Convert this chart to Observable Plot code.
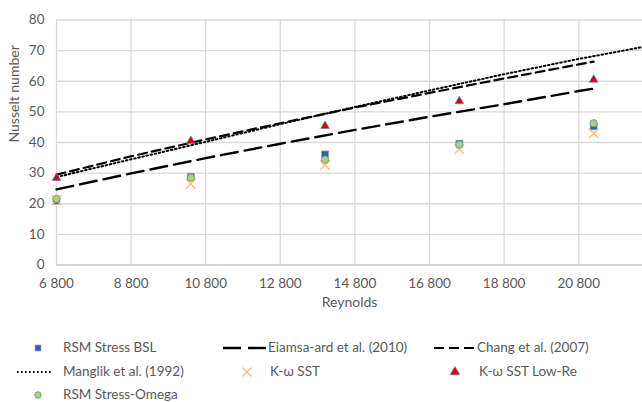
<!DOCTYPE html>
<html><head><meta charset="utf-8">
<script src="https://cdn.jsdelivr.net/npm/d3@7"></script>
<script src="https://cdn.jsdelivr.net/npm/@observablehq/plot@0.6"></script>
<style>
body{margin:0;background:#fff;font-family:Lato,"Open Sans",sans-serif;}
#wrap{position:relative;width:642px;height:402px;overflow:hidden;background:#fff;}
.lg{position:absolute;font-size:13.5px;color:#595959;white-space:nowrap;transform:translateY(-50%);line-height:1;}
svg.sw{position:absolute;overflow:visible;}
</style></head><body><div id="wrap"></div>
<script>
// ---- data ----
const reynolds = [6800, 10400, 14000, 17600, 21200];
const rsmBSL   = [21.0, 28.8, 36.1, 39.6, 45.3];
const kwSST    = [21.2, 26.5, 32.6, 37.8, 43.0];
const kwLowRe  = [28.4, 40.5, 45.4, 53.5, 60.5];
const rsmOmega = [21.6, 28.5, 34.4, 39.3, 46.3];

const corrRe   = [6800, 8800, 10800, 12800, 14800, 16800, 18800, 20800, 21200];
const eiamsa   = [24.7, 29.9, 34.9, 39.6, 44.1, 48.4, 52.5, 56.8, 57.6];
const chang    = [29.5, 35.5, 41.0, 46.3, 51.4, 56.2, 60.9, 65.5, 66.4];
const manglikRe = [6800, 8800, 10800, 12800, 14800, 16800, 18800, 20800, 22800];
const manglik  = [28.7, 34.5, 40.2, 46.0, 51.6, 57.0, 62.3, 67.3, 71.8];

const xTicks = [6800, 8800, 10800, 12800, 14800, 16800, 18800, 20800];
const xTickLabels = ["6 800", "8 800", "10 800", "12 800", "14 800", "16 800", "18 800", "20 800"];
const yTicks = [0, 10, 20, 30, 40, 50, 60, 70, 80];

const seriesNames = ["RSM Stress BSL", "Eiamsa-ard et al. (2010)", "Chang et al. (2007)",
  "Manglik et al. (1992)", "K-\u03c9 SST", "K-\u03c9 SST Low-Re", "RSM Stress-Omega"];

// ---- tables ----
const pts = ys => reynolds.map((x, i) => ({x, y: ys[i]}));
const lin = (xs, ys) => xs.map((x, i) => ({x, y: ys[i]}));
const xLabel = new Map(xTicks.map((t, i) => [t, xTickLabels[i]]));

const C = {
  sqFill: "#2f5fb5", sqStroke: "#8faadc",
  xStroke: "#f6be6e",
  triFill: "#e00000", triStroke: "#5b7fd0",
  cirFill: "#a9cf8c", cirStroke: "#7f9c6c"
};

const chart = Plot.plot({
  width: 642, height: 318,
  marginLeft: 56, marginRight: 0, marginTop: 19.5, marginBottom: 53.5,
  style: {fontFamily: "Lato, 'Open Sans', sans-serif", fontSize: "13.5px", color: "#595959", background: "white", overflow: "visible"},
  x: {domain: [6800, 22510]},
  y: {domain: [0, 80]},
  marks: [
    Plot.ruleY(yTicks.slice(1), {stroke: "#d9d9d9", strokeWidth: 1.3}),
    Plot.ruleX(xTicks, {stroke: "#d9d9d9", strokeWidth: 1.3}),
    Plot.ruleY([0], {stroke: "#c4c4c4", strokeWidth: 1.3}),
    Plot.axisX({ticks: xTicks, tickFormat: d => xLabel.get(d), tickSize: 0, tickPadding: 13, label: null, fill: "#595959"}),
    Plot.axisY({ticks: yTicks, tickSize: 0, tickPadding: 12, label: null, fill: "#595959"}),
    Plot.text(["Reynolds"], {text: d => d, frameAnchor: "bottom", dy: 41.5, fill: "#595959", fontSize: 14}),
    Plot.text(["Nusselt number"], {text: d => d, frameAnchor: "left", dx: -42, rotate: -90, fill: "#595959", fontSize: 14}),
    Plot.dot(pts(rsmBSL), {x: "x", y: "y", symbol: "square", r: 4, fill: C.sqFill, stroke: C.sqStroke, strokeWidth: 0.6}),
    Plot.line(lin(corrRe, eiamsa), {x: "x", y: "y", stroke: "#000", strokeWidth: 2.4, strokeDasharray: "17,7"}),
    Plot.line(lin(corrRe, chang), {x: "x", y: "y", stroke: "#000", strokeWidth: 2.2, strokeDasharray: "9,5"}),
    Plot.line(lin(manglikRe, manglik), {x: "x", y: "y", stroke: "#000", strokeWidth: 2, strokeDasharray: "1.6,2.6", clip: true}),
    Plot.dot(pts(kwSST), {x: "x", y: "y", symbol: "times", r: 4.5, stroke: C.xStroke, strokeWidth: 1.3}),
    Plot.dot(pts(kwLowRe), {x: "x", y: "y", symbol: "triangle", r: 3.2, fill: C.triFill, stroke: C.triStroke, strokeWidth: 0.7}),
    Plot.dot(pts(rsmOmega), {x: "x", y: "y", symbol: "circle", r: 3.6, fill: C.cirFill, stroke: C.cirStroke, strokeWidth: 1})
  ]
});
const wrap = document.getElementById("wrap");
chart.style.position = "absolute"; chart.style.left = "0px"; chart.style.top = "0px";
wrap.appendChild(chart);

// ---- legend ----
const legendItems = [
  {name: seriesNames[0], kind: "square",   sx: 37.5, tx: 63,  y: 348},
  {name: seriesNames[1], kind: "long",     sx: 223,  tx: 268, y: 348},
  {name: seriesNames[2], kind: "short",    sx: 434,  tx: 477, y: 348},
  {name: seriesNames[3], kind: "dot",      sx: 16.5, tx: 63,  y: 372},
  {name: seriesNames[4], kind: "times",    sx: 246.5, tx: 270, y: 372},
  {name: seriesNames[5], kind: "triangle", sx: 455,  tx: 479, y: 372},
  {name: seriesNames[6], kind: "circle",   sx: 37.5, tx: 63,  y: 395}
];
for (const it of legendItems) {
  const s = d3.create("svg").attr("class", "sw").attr("width", 1).attr("height", 1)
    .style("left", it.sx + "px").style("top", it.y + "px");
  if (it.kind === "square") s.append("rect").attr("x", -3).attr("y", -3).attr("width", 6).attr("height", 6).attr("fill", C.sqFill).attr("stroke", C.sqStroke).attr("stroke-width", 0.6);
  if (it.kind === "circle") s.append("circle").attr("r", 3.2).attr("fill", C.cirFill).attr("stroke", C.cirStroke);
  if (it.kind === "triangle") s.append("path").attr("d", d3.symbol(d3.symbolTriangle, 40)()).attr("fill", C.triFill).attr("stroke", C.triStroke).attr("stroke-width", 0.7);
  if (it.kind === "times") s.append("path").attr("d", "M-4.5,-4.5L4.5,4.5M-4.5,4.5L4.5,-4.5").attr("stroke", C.xStroke).attr("stroke-width", 1.3).attr("fill", "none");
  if (it.kind === "long") s.append("line").attr("x1", 0).attr("x2", 44).attr("stroke", "#000").attr("stroke-width", 2.4).attr("stroke-dasharray", "18,7");
  if (it.kind === "short") s.append("line").attr("x1", 0).attr("x2", 41).attr("stroke", "#000").attr("stroke-width", 2.2).attr("stroke-dasharray", "10,5");
  if (it.kind === "dot") s.append("line").attr("x1", 0).attr("x2", 34).attr("stroke", "#000").attr("stroke-width", 2).attr("stroke-dasharray", "1.6,2.4");
  wrap.appendChild(s.node());
  const t = document.createElement("div");
  t.className = "lg"; t.textContent = it.name;
  t.style.left = it.tx + "px"; t.style.top = it.y + "px";
  wrap.appendChild(t);
}
</script></body></html>
